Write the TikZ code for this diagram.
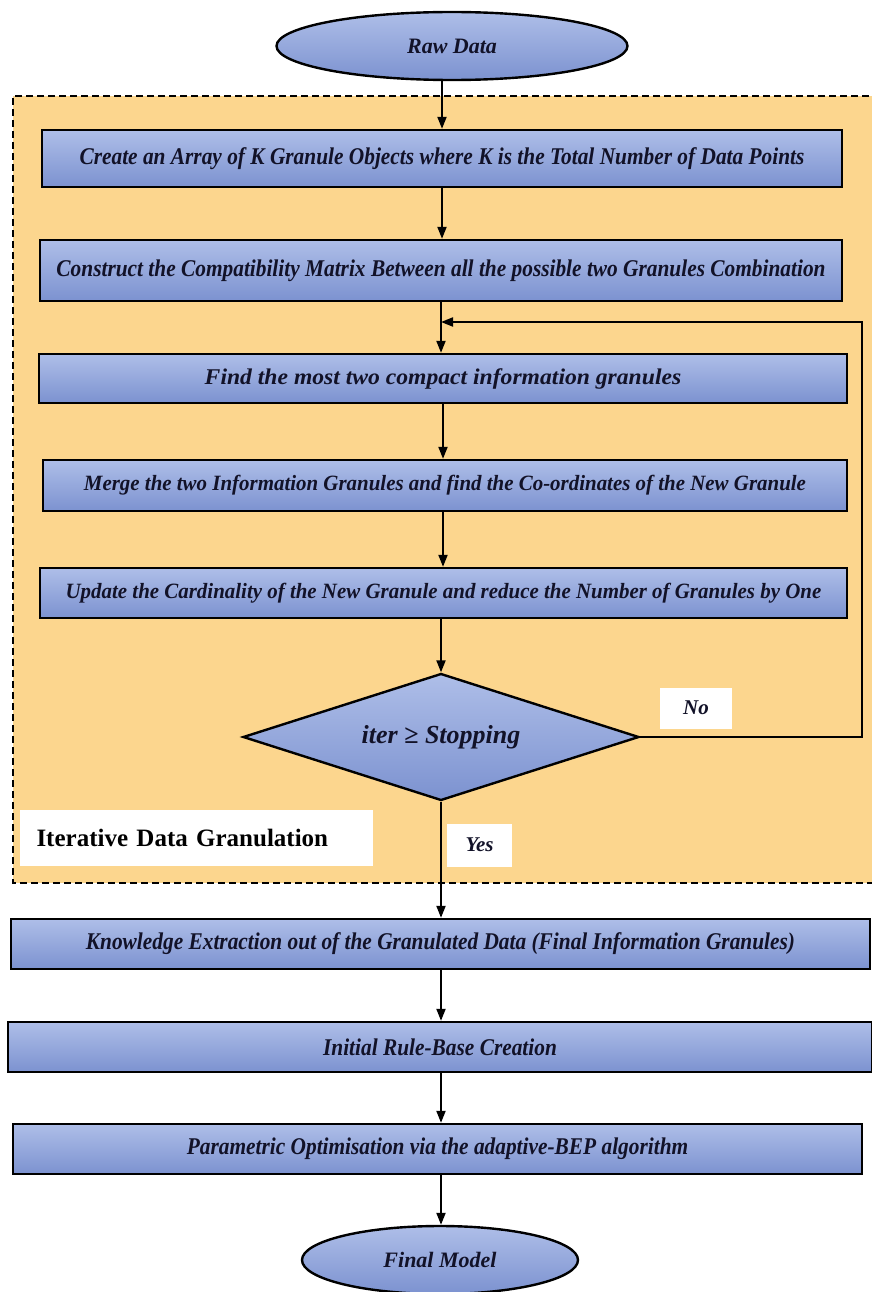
\documentclass[tikz,border=0pt]{standalone}
\usepackage{fontspec}
\setmainfont{Liberation Serif}
\newfontfamily\narrowserif[FakeStretch=0.89]{Liberation Serif}
\newfontfamily\wideserif[FakeStretch=0.96]{Liberation Serif}
\newfontfamily\broadserif[FakeStretch=1.05]{Liberation Serif}
\usetikzlibrary{arrows.meta,shapes.geometric,calc}

\definecolor{panel}{RGB}{252,214,142}
\definecolor{boxtop}{RGB}{174,190,232}
\definecolor{boxbot}{RGB}{124,146,208}
\definecolor{ink}{RGB}{18,18,40}

\begin{document}
\begin{tikzpicture}[x=1pt,y=-1pt,
  stepbox/.style={draw=black, line width=2.4pt, top color=boxtop, bottom color=boxbot,
    inner sep=0pt, text=ink,
    font=\narrowserif\bfseries\itshape\fontsize{24}{28}\selectfont},
  loopbox/.style={stepbox, font=\wideserif\bfseries\itshape\fontsize{21.8}{26}\selectfont},
  terminal/.style={ellipse, draw=black, line width=2.4pt, top color=boxtop, bottom color=boxbot,
    inner sep=0pt, text=ink, font=\bfseries\itshape\fontsize{22}{26}\selectfont},
  decision/.style={diamond, aspect=3.1, draw=black, line width=2.4pt, top color=boxtop,
    bottom color=boxbot, inner sep=0pt, text=ink,
    font=\bfseries\itshape\fontsize{26}{30}\selectfont},
  flow/.style={line width=2pt, draw=black, -{Triangle[length=12pt,width=9pt]}},
  tag/.style={fill=white, inner sep=0pt, text=ink}
]
\useasboundingbox (0,0) rectangle (872,1292);
\clip (0,0) rectangle (872,1292);
\fill[white] (0,0) rectangle (872,1292);

% dashed panel around the iterative granulation loop (open to the right edge)
\fill[panel] (13,96) rectangle (880,883);
\draw[line width=2.2pt, dash pattern=on 7pt off 4pt] (880,96) -- (13,96) -- (13,883) -- (880,883);

% flow steps
\node[terminal, minimum width=351pt, minimum height=68pt] (raw) at (452,46) {Raw Data};
\node[stepbox, minimum width=800pt, minimum height=57pt] (b1) at (442,158.5)
  {Create an Array of K Granule Objects where K is the Total Number of Data Points};
\node[stepbox, minimum width=802pt, minimum height=61pt] (b2) at (441,270.5)
  {Construct the Compatibility Matrix Between all the possible two Granules Combination};
\node[loopbox, minimum width=808pt, minimum height=49pt,
  font=\broadserif\bfseries\itshape\fontsize{22.5}{26}\selectfont] (b3) at (443,378.5)
  {Find the most two compact information granules};
\node[loopbox, minimum width=804pt, minimum height=51pt] (b4) at (445,485.5)
  {Merge the two Information Granules and find the Co-ordinates of the New Granule};
\node[loopbox, minimum width=807pt, minimum height=50pt] (b5) at (443.5,593)
  {Update the Cardinality of the New Granule and reduce the Number of Granules by One};
\node[decision, minimum width=396pt, minimum height=127pt] (dia) at (441,737)
  {iter ≥ Stopping};
\node[stepbox, minimum width=859pt, minimum height=50pt] (b6) at (440.5,944)
  {Knowledge Extraction out of the Granulated Data (Final Information Granules)};
\node[stepbox, minimum width=864pt, minimum height=50pt] (b7) at (440,1047)
  {Initial Rule-Base Creation};
\node[stepbox, minimum width=849pt, minimum height=50pt] (b8) at (437.5,1149)
  {Parametric Optimisation via the adaptive-BEP algorithm};
\node[terminal, minimum width=276pt, minimum height=68pt] (fin) at (440,1260) {Final Model};

% labels
\node[tag, minimum width=353pt, minimum height=56pt, text width=320pt, align=left,
  font=\bfseries\fontsize{25}{28}\selectfont, text=black] (lbl) at (196.5,838)
  {Iterative Data Granulation};
\node[tag, minimum width=72pt, minimum height=41pt, font=\bfseries\itshape\fontsize{21}{24}\selectfont]
  (no) at (696,708) {No};
\node[tag, minimum width=65pt, minimum height=43pt, font=\bfseries\itshape\fontsize{21}{24}\selectfont]
  (yes) at (479.5,845) {Yes};

% connectors
\coordinate (loop) at (862,322);
\draw[flow] (b1.north |- raw.south) -- (b1.north);
\draw[flow] (b1.south) -- (b2.north -| b1.south);
\draw[flow] (b2.south) -- (b3.north -| b2.south);
\draw[flow] (b3.south) -- (b4.north -| b3.south);
\draw[flow] (b4.south -| b3.south) -- (b5.north -| b3.south);
\draw[flow] (b5.south -| dia.north) -- (dia.north);
\draw[flow] (dia.east) -- (dia.east -| loop) -- (loop) -- (loop -| b2.south);
\draw[flow] (dia.south) -- (b6.north -| dia.south);
\draw[flow] (b6.south -| dia.south) -- (b7.north -| dia.south);
\draw[flow] (b7.south -| dia.south) -- (b8.north -| dia.south);
\draw[flow] (b8.south -| dia.south) -- (fin.north -| dia.south);
\end{tikzpicture}
\end{document}
